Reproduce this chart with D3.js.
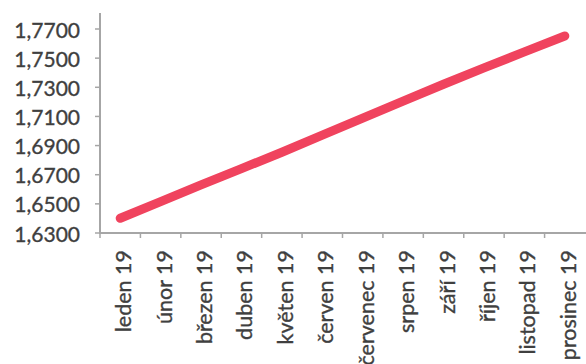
<!DOCTYPE html>
<html><head><meta charset="utf-8">
<script src="https://cdn.jsdelivr.net/npm/d3@7"></script>
<style>
html,body{margin:0;padding:0;background:#fff;}
svg{display:block;}
text{font-family:Lato, "Open Sans", sans-serif;fill:#3f3f3f;stroke:#3f3f3f;stroke-width:0.35px;}
</style></head>
<body>
<svg id="chart" width="586" height="364"></svg>
<script>
const categories = ["leden 19","únor 19","březen 19","duben 19","květen 19","červen 19","červenec 19","srpen 19","září 19","říjen 19","listopad 19","prosinec 19"];
const values = [1.6401,1.6515,1.6630,1.6742,1.6854,1.6971,1.7088,1.7205,1.7321,1.7433,1.7543,1.7652];
const yTicks = [1.63,1.65,1.67,1.69,1.71,1.73,1.75,1.77];

const svg = d3.select("#chart");
const x = d3.scaleBand().domain(categories).range([100, 585]);
const y = d3.scaleLinear().domain([1.63, 1.77]).range([233, 29]);
const fmt = v => v.toFixed(4).replace(".", ",");

// y axis
svg.append("line").attr("x1",100).attr("x2",100).attr("y1",13).attr("y2",234)
  .attr("stroke","#a6a6a6").attr("stroke-width",2);
svg.selectAll(".yt").data(yTicks).enter().append("line")
  .attr("x1",95).attr("x2",100).attr("y1",d=>y(d)).attr("y2",d=>y(d))
  .attr("stroke","#a6a6a6").attr("stroke-width",1.5);
svg.selectAll(".yl").data(yTicks).enter().append("text")
  .attr("x",80).attr("y",d=>y(d)).attr("text-anchor","end")
  .attr("dominant-baseline","central").attr("font-size",21).text(fmt);

// x axis
svg.append("line").attr("x1",99).attr("x2",586).attr("y1",233).attr("y2",233)
  .attr("stroke","#a6a6a6").attr("stroke-width",2);
svg.selectAll(".xt").data(categories).enter().append("line")
  .attr("x1",d=>x(d)).attr("x2",d=>x(d)).attr("y1",233).attr("y2",238)
  .attr("stroke","#a6a6a6").attr("stroke-width",1.5);
svg.selectAll(".xl").data(categories).enter().append("text")
  .attr("transform",d=>`translate(${x(d)+x.bandwidth()/2+3},250) rotate(-90)`)
  .attr("text-anchor","end").attr("dominant-baseline","central")
  .attr("font-size",21.5).text(d=>d);

// line
const line = d3.line().x((d,i)=>x(categories[i])+x.bandwidth()/2).y(d=>y(d));
svg.append("path").datum(values).attr("d",line)
  .attr("fill","none").attr("stroke","#f0435e").attr("stroke-width",9)
  .attr("stroke-linecap","round").attr("stroke-linejoin","round");
</script>
</body></html>
